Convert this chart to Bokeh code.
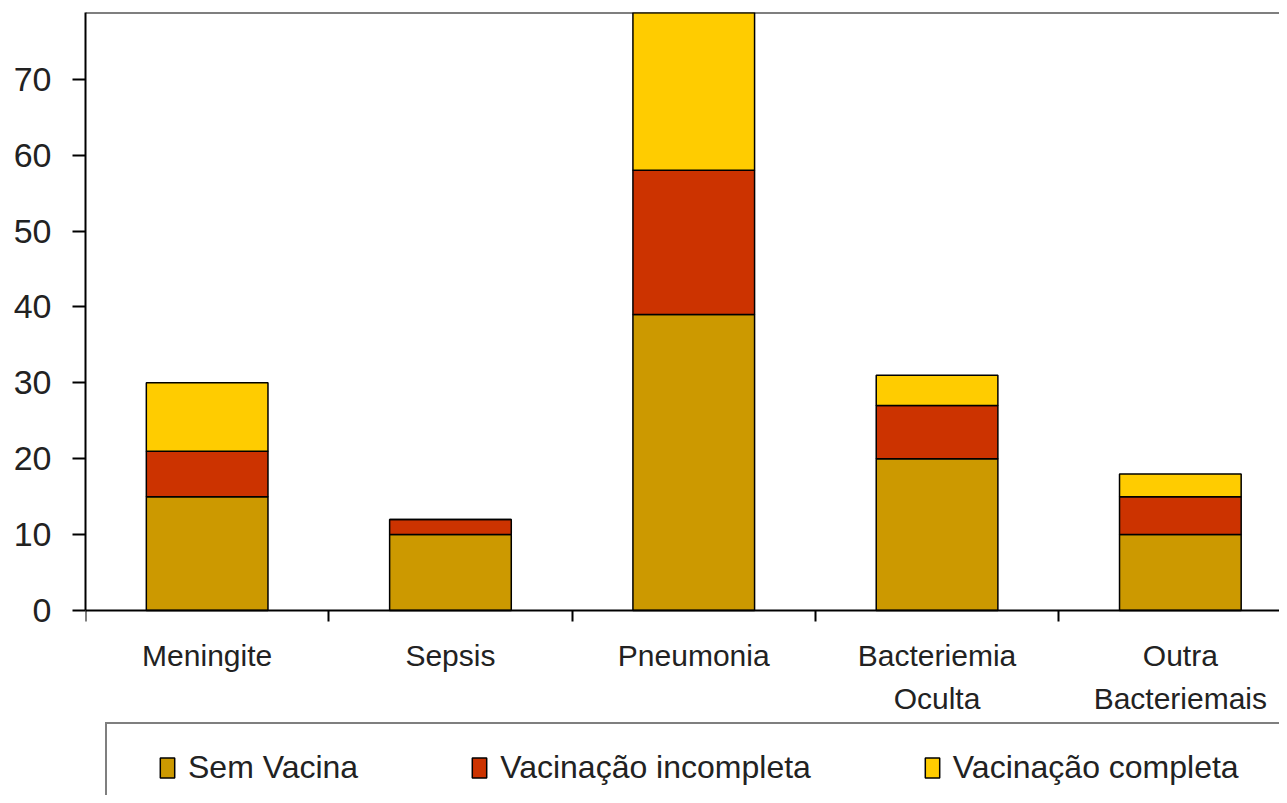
from bokeh.plotting import figure
from bokeh.models import Range1d, FixedTicker, Legend, LegendItem, Span, ColumnDataSource
from bokeh.embed import file_html
from bokeh.resources import INLINE

categories = ["Meningite", "Sepsis", "Pneumonia", "Bacteriemia\nOculta", "Outra\nBacteriemais"]
sem_vacina = [15, 10, 39, 20, 10]
vac_incompleta = [6, 2, 19, 7, 5]
vac_completa = [9, 0, 22, 4, 3]
series_names = ["Sem Vacina", "Vacinação incompleta", "Vacinação completa"]
series_colors = ["#CC9900", "#CC3300", "#FFCC00"]
y_ticks = [0, 10, 20, 30, 40, 50, 60, 70]

FONT = "Liberation Sans"
TEXT_COLOR = "#222222"

# layout (pixels)
W, H = 1279, 795
LEFT, TOP = 85, 12
AXIS_Y = 610            # pixel row of value 0
CAT_PX = 243.3          # pixel width of one category slot

y_top = 78.8
y_bottom = -y_top * (H - AXIS_Y) / (AXIS_Y - TOP)
x_end = (W - LEFT) / CAT_PX

x_centers = [i + 0.5 for i in range(len(categories))]
x_bounds = [i for i in range(len(categories) + 1)]

source = ColumnDataSource(dict(x=x_centers, sem=sem_vacina, inc=vac_incompleta, comp=vac_completa))

p = figure(width=W, height=H, output_backend="svg", toolbar_location=None,
           x_range=Range1d(0, x_end), y_range=Range1d(y_bottom, y_top),
           min_border_left=LEFT, min_border_right=0, min_border_top=TOP, min_border_bottom=0,
           title=None)
p.outline_line_color = None
p.background_fill_color = "white"
p.border_fill_color = "white"
p.xgrid.visible = False
p.ygrid.visible = False

renderers = p.vbar_stack(["sem", "inc", "comp"], x="x", width=0.5, source=source,
                         fill_color=series_colors, line_color="black", line_width=1.5)

# invisible spacer so that the legend frame runs past the right edge, as in the original
spacer = p.scatter(x=[], y=[], fill_alpha=0, line_alpha=0)

top_line = Span(location=y_top, dimension="width", line_color="black", line_width=2)
p.add_layout(top_line)

# y axis
p.yaxis.bounds = (0, y_top)
p.yaxis.ticker = FixedTicker(ticks=y_ticks, minor_ticks=[])
p.yaxis.major_tick_out = 13
p.yaxis.major_tick_in = 0
p.yaxis.minor_tick_out = 0
p.yaxis.axis_line_width = 2
p.yaxis.major_tick_line_width = 2
p.yaxis.major_label_standoff = 21
p.yaxis.major_label_text_font = FONT
p.yaxis.major_label_text_font_size = "34px"
p.yaxis.major_label_text_color = TEXT_COLOR

# x axis, drawn at value 0
p.xaxis.fixed_location = 0
p.xaxis.ticker = FixedTicker(ticks=x_centers, minor_ticks=x_bounds)
p.xaxis.major_label_overrides = {c: lab for c, lab in zip(x_centers, categories)}
p.xaxis.major_tick_out = 0
p.xaxis.major_tick_in = 0
p.xaxis.minor_tick_out = 11
p.xaxis.minor_tick_in = 0
p.xaxis.minor_tick_line_width = 2
p.xaxis.axis_line_width = 2
p.xaxis.major_label_standoff = 17
p.xaxis.major_label_text_font = FONT
p.xaxis.major_label_text_font_size = "30px"
p.xaxis.major_label_text_line_height = 1.33
p.xaxis.major_label_text_color = TEXT_COLOR
p.xaxis.major_label_text_align = "center"

items = [LegendItem(label=n, renderers=[r]) for n, r in zip(series_names, renderers)]
items.append(LegendItem(label="\u00a0", renderers=[spacer]))

legend = Legend(items=items,
                orientation="horizontal", location=(20, -18),
                title="\u00a0", title_location="left", title_standoff=25,
                title_text_font=FONT, title_text_font_size="1px",
                label_text_font=FONT, label_text_font_size="32px", label_text_color=TEXT_COLOR,
                glyph_width=18, glyph_height=25, label_standoff=12, spacing=112,
                padding=25, margin=0,
                border_line_color="black", border_line_width=2,
                background_fill_color="white", background_fill_alpha=1.0)
p.add_layout(legend, "center")

open("out.html", "w").write(file_html(p, INLINE))
